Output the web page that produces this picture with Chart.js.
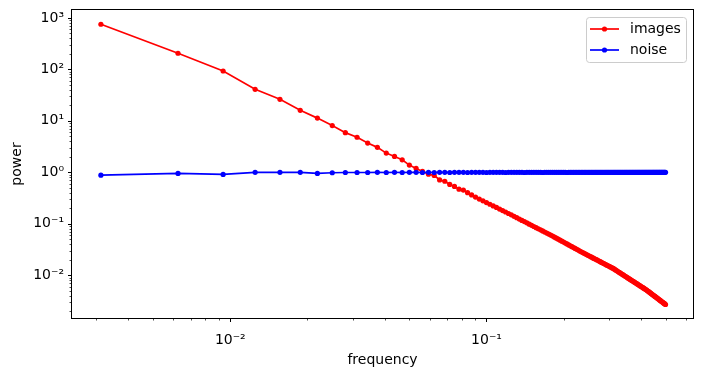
<!DOCTYPE html>
<html>
<head>
<meta charset="utf-8">
<script src="https://cdn.jsdelivr.net/npm/chart.js@4"></script>
<style>
  html, body { margin: 0; padding: 0; background: #fff; }
  #wrap { width: 702px; height: 376px; }
</style>
</head>
<body>
<div id="wrap"><canvas id="powerChart" width="702" height="376"></canvas></div>
<script>
// * data
const frequency = [
  0.003125, 0.00625, 0.009375, 0.0125, 0.015625, 0.01875, 0.021875, 0.025, 0.028125, 0.03125,
  0.034375, 0.0375, 0.040625, 0.04375, 0.046875, 0.05, 0.053125, 0.05625, 0.059375, 0.0625,
  0.065625, 0.06875, 0.071875, 0.075, 0.078125, 0.08125, 0.084375, 0.0875, 0.090625, 0.09375,
  0.096875, 0.1, 0.103125, 0.10625, 0.109375, 0.1125, 0.115625, 0.11875, 0.121875, 0.125,
  0.128125, 0.13125, 0.134375, 0.1375, 0.140625, 0.14375, 0.146875, 0.15, 0.153125, 0.15625,
  0.159375, 0.1625, 0.165625, 0.16875, 0.171875, 0.175, 0.178125, 0.18125, 0.184375, 0.1875,
  0.190625, 0.19375, 0.196875, 0.2, 0.203125, 0.20625, 0.209375, 0.2125, 0.215625, 0.21875,
  0.221875, 0.225, 0.228125, 0.23125, 0.234375, 0.2375, 0.240625, 0.24375, 0.246875, 0.25,
  0.253125, 0.25625, 0.259375, 0.2625, 0.265625, 0.26875, 0.271875, 0.275, 0.278125, 0.28125,
  0.284375, 0.2875, 0.290625, 0.29375, 0.296875, 0.3, 0.303125, 0.30625, 0.309375, 0.3125,
  0.315625, 0.31875, 0.321875, 0.325, 0.328125, 0.33125, 0.334375, 0.3375, 0.340625, 0.34375,
  0.346875, 0.35, 0.353125, 0.35625, 0.359375, 0.3625, 0.365625, 0.36875, 0.371875, 0.375,
  0.378125, 0.38125, 0.384375, 0.3875, 0.390625, 0.39375, 0.396875, 0.4, 0.403125, 0.40625,
  0.409375, 0.4125, 0.415625, 0.41875, 0.421875, 0.425, 0.428125, 0.43125, 0.434375, 0.4375,
  0.440625, 0.44375, 0.446875, 0.45, 0.453125, 0.45625, 0.459375, 0.4625, 0.465625, 0.46875,
  0.471875, 0.475, 0.478125, 0.48125, 0.484375, 0.4875, 0.490625, 0.49375, 0.496875, 0.5
];

const imagesPower = [
  754, 206, 93, 41, 26.2, 16, 11.3, 8.1, 5.9, 4.8,
  3.7, 3.05, 2.36, 2.03, 1.75, 1.38, 1.19, 1.04, 0.92, 0.87,
  0.71, 0.67, 0.58, 0.53, 0.47, 0.45, 0.402, 0.363, 0.33, 0.302,
  0.279, 0.258, 0.239, 0.222, 0.207, 0.193, 0.18, 0.169, 0.158, 0.149,
  0.139, 0.131, 0.123, 0.116, 0.11, 0.104, 0.0982, 0.0931, 0.0883, 0.0839,
  0.0798, 0.076, 0.0724, 0.069, 0.0659, 0.0629, 0.0602, 0.0575, 0.0548, 0.0524,
  0.0501, 0.0479, 0.0458, 0.0439, 0.0421, 0.0404, 0.0388, 0.0372, 0.0358, 0.0344,
  0.0331, 0.0318, 0.0307, 0.0295, 0.0285, 0.0275, 0.0266, 0.0257, 0.0249, 0.0241,
  0.0233, 0.0226, 0.0219, 0.0212, 0.0206, 0.02, 0.0194, 0.0188, 0.0183, 0.0177,
  0.0172, 0.0168, 0.0163, 0.0158, 0.0154, 0.015, 0.0146, 0.0142, 0.0138, 0.0135,
  0.01306, 0.01266, 0.01227, 0.01189, 0.01153, 0.01118, 0.01085, 0.01053, 0.01022, 0.00992,
  0.00964, 0.00937, 0.0091, 0.00885, 0.0086, 0.00836, 0.00814, 0.00792, 0.0077, 0.0075,
  0.0073, 0.00711, 0.00693, 0.00675, 0.00657, 0.00641, 0.00625, 0.00609, 0.00594, 0.0058,
  0.00565, 0.00552, 0.00538, 0.00525, 0.00513, 0.00498, 0.00485, 0.00472, 0.00459, 0.00447,
  0.00435, 0.00423, 0.00412, 0.00402, 0.00391, 0.00381, 0.00371, 0.00362, 0.00353, 0.00344,
  0.00335, 0.00327, 0.00319, 0.00311, 0.00304, 0.00296, 0.00289, 0.00282, 0.00276, 0.00269
];

const noisePower = [
  0.88, 0.95, 0.91, 1.0, 1.0, 1.0, 0.95, 0.98, 0.99, 0.99,
  0.99, 1.0, 0.99, 1.0, 0.99, 1.0, 1.0, 0.99, 1.0, 0.99,
  1.0, 1.0, 0.99, 1.0, 1.0, 1.0, 0.99, 1.0, 1.0, 1.0,
  1.0, 0.99, 1.0, 1.0, 1.0, 1.0, 1.0, 0.99, 1.0, 1.0,
  1.0, 1.0, 1.0, 1.0, 0.99, 1.0, 1.0, 1.0, 1.0, 1.0,
  1.0, 1.0, 0.99, 1.0, 1.0, 1.0, 1.0, 1.0, 1.0, 1.0,
  1.0, 1.0, 1.0, 1.0, 1.0, 0.99, 1.0, 1.0, 1.0, 1.0,
  1.0, 1.0, 1.0, 1.0, 1.0, 1.0, 1.0, 1.0, 1.0, 1.0,
  1.0, 1.0, 1.0, 1.0, 1.0, 1.0, 1.0, 1.0, 1.0, 1.0,
  1.0, 1.0, 1.0, 1.0, 1.0, 1.0, 1.0, 1.0, 1.0, 1.0,
  1.0, 1.0, 1.0, 1.0, 1.0, 1.0, 1.0, 1.0, 1.0, 1.0,
  1.0, 1.0, 1.0, 1.0, 1.0, 1.0, 1.0, 1.0, 1.0, 1.0,
  1.0, 1.0, 1.0, 1.0, 1.0, 1.0, 1.0, 1.0, 1.0, 1.0,
  1.0, 1.0, 1.0, 1.0, 1.0, 1.0, 1.0, 1.0, 1.0, 1.0,
  1.0, 1.0, 1.0, 1.0, 1.0, 1.0, 1.0, 1.0, 1.0, 1.0,
  1.0, 1.0, 1.0, 1.0, 1.0, 1.0, 1.0, 1.0, 1.0, 1.0
];

const seriesNames = ["images", "noise"];
const seriesColors = ["#ff0000", "#0000ff"];
const xDecades = [0.001, 0.01, 0.1];
const yDecades = [0.001, 0.01, 0.1, 1, 10, 100, 1000];
const xRange = [0.00241, 0.64];
const yRange = [0.00147, 1428];

const FONT = "'DejaVu Sans', 'Liberation Sans', sans-serif";
const SUP = { "-": "\u207B", 0: "\u2070", 1: "\u00B9", 2: "\u00B2", 3: "\u00B3", 4: "\u2074", 5: "\u2075", 6: "\u2076", 7: "\u2077", 8: "\u2078", 9: "\u2079" };

// ? log ticks like matplotlib: decades labelled, 2..9 unlabelled
function logTicks(decades, range) {
  const out = [];
  decades.forEach((d) => {
    for (let m = 1; m <= 9; m++) {
      const v = d * m;
      if (v >= range[0] && v <= range[1]) out.push({ value: v, major: m === 1 });
    }
  });
  return out;
}

function powLabel(value, index, ticks) {
  if (!ticks[index].major) return "";
  const e = Math.round(Math.log10(value));
  return "10" + String(e).split("").map((c) => SUP[c]).join("");
}

const toPoints = (ys) => ys.map((y, i) => ({ x: frequency[i], y: y }));

// draw tick marks, frame and legend
const mplPlugin = {
  id: "mpl",
  afterDraw(chart) {
    const ctx = chart.ctx;
    const a = chart.chartArea;
    ctx.save();
    ctx.strokeStyle = "#000";
    chart.scales.x.ticks.forEach((t) => {
      const px = Math.round(chart.scales.x.getPixelForValue(t.value)) + 0.5;
      ctx.lineWidth = t.major ? 1 : 0.7;
      ctx.beginPath();
      ctx.moveTo(px, a.bottom);
      ctx.lineTo(px, a.bottom + (t.major ? 4 : 2.5));
      ctx.stroke();
    });
    chart.scales.y.ticks.forEach((t) => {
      const py = Math.round(chart.scales.y.getPixelForValue(t.value)) + 0.5;
      ctx.lineWidth = t.major ? 1 : 0.7;
      ctx.beginPath();
      ctx.moveTo(a.left, py);
      ctx.lineTo(a.left - (t.major ? 4 : 2.5), py);
      ctx.stroke();
    });
    ctx.lineWidth = 1;
    ctx.strokeRect(Math.round(a.left) - 0.5, Math.round(a.top) - 0.5, Math.round(a.right - a.left) + 1, Math.round(a.bottom - a.top) + 1);

    // legend
    const w = 100, h = 45;
    const lx = a.right - 7 - w, ly = a.top + 7;
    ctx.beginPath();
    ctx.roundRect(lx + 0.5, ly + 0.5, w, h, 3);
    ctx.fillStyle = "rgba(255,255,255,0.8)";
    ctx.fill();
    ctx.strokeStyle = "#cccccc";
    ctx.stroke();
    ctx.font = "14px " + FONT;
    ctx.textBaseline = "middle";
    chart.data.datasets.forEach((ds, i) => {
      const cy = ly + 12 + i * 21;
      ctx.strokeStyle = ds.borderColor;
      ctx.lineWidth = 1.7;
      ctx.beginPath();
      ctx.moveTo(lx + 4, cy);
      ctx.lineTo(lx + 33, cy);
      ctx.stroke();
      ctx.fillStyle = ds.borderColor;
      ctx.beginPath();
      ctx.arc(lx + 18.5, cy, 2.6, 0, Math.PI * 2);
      ctx.fill();
      ctx.fillStyle = "#000";
      ctx.fillText(ds.label, lx + 44, cy);
    });
    ctx.restore();
  },
};

const powerChart = new Chart(document.getElementById("powerChart").getContext("2d"), {
  type: "line",
  data: {
    datasets: [
      {
        label: seriesNames[0],
        data: toPoints(imagesPower),
        borderColor: seriesColors[0],
        backgroundColor: seriesColors[0],
        borderWidth: 1.7,
        pointRadius: 2.6,
        pointBorderWidth: 0,
        order: 1,
      },
      {
        label: seriesNames[1],
        data: toPoints(noisePower),
        borderColor: seriesColors[1],
        backgroundColor: seriesColors[1],
        borderWidth: 1.7,
        pointRadius: 2.6,
        pointBorderWidth: 0,
        order: 0,
      },
    ],
  },
  options: {
    responsive: false,
    animation: false,
    devicePixelRatio: 1,
    layout: { padding: { top: 10, right: 9, left: 0, bottom: 0 } },
    plugins: { legend: { display: false }, tooltip: { enabled: false } },
    scales: {
      x: {
        type: "logarithmic",
        min: xRange[0],
        max: xRange[1],
        bounds: "data",
        afterBuildTicks: (s) => { s.ticks = logTicks(xDecades, xRange); },
        afterFit: (s) => { s.height = 58; s.paddingLeft = 0; s.paddingRight = 0; },
        grid: { display: false, drawTicks: false },
        border: { display: false },
        ticks: { autoSkip: false, maxRotation: 0, padding: 14, color: "#000", font: { family: FONT, size: 14 }, callback: powLabel },
        title: { display: true, text: "frequency", color: "#000", font: { family: FONT, size: 14 }, padding: { top: 0, bottom: 7.6 } },
      },
      y: {
        type: "logarithmic",
        min: yRange[0],
        max: yRange[1],
        bounds: "data",
        afterBuildTicks: (s) => { s.ticks = logTicks(yDecades, yRange); },
        afterFit: (s) => { s.width = 72; s.paddingTop = 0; s.paddingBottom = 0; },
        grid: { display: false, drawTicks: false },
        border: { display: false },
        ticks: { autoSkip: false, padding: 8, color: "#000", font: { family: FONT, size: 14 }, callback: powLabel },
        title: { display: true, text: "power", color: "#000", font: { family: FONT, size: 14 }, padding: { top: 8.6, bottom: 0 } },
      },
    },
  },
  plugins: [mplPlugin],
});
</script>
</body>
</html>
